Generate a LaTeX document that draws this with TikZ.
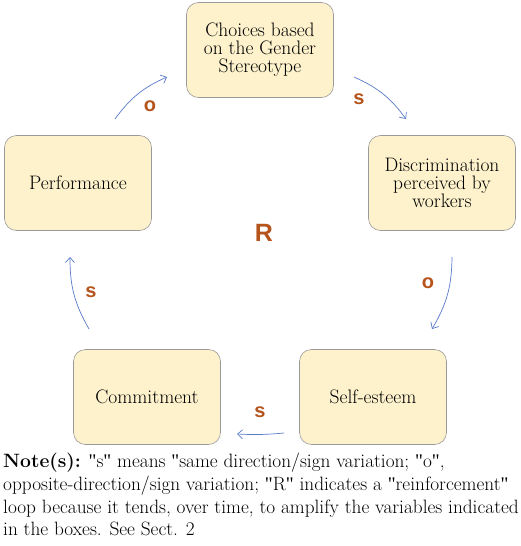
\documentclass[tikz,border=0pt]{standalone}
\usepackage{fontspec}
\newfontfamily\lblfont{Liberation Sans}
\newfontfamily\quotefont{Liberation Serif}[Ligatures=NoCommon]
\usetikzlibrary{arrows.meta}
\definecolor{boxfill}{HTML}{FDF2CC}
\definecolor{boxline}{HTML}{9A9A9A}
\definecolor{arrowblue}{HTML}{5A7BC8}
\definecolor{lblcol}{HTML}{B5541C}
\newcommand\dq{{\quotefont\symbol{34}}}
\tikzset{
  varbox/.style={draw=boxline, line width=0.6pt, fill=boxfill, rounded corners=12pt,
    minimum width=147pt, minimum height=95pt, align=center, inner sep=2pt,
    font=\fontsize{19.5}{18}\selectfont},
  link/.style={draw=arrowblue, line width=0.7pt, -{Straight Barb[length=5pt,width=9pt]}},
  sign/.style={text=lblcol, font=\lblfont\bfseries\fontsize{20}{20}\selectfont, inner sep=0pt},
}
\begin{document}
\begin{tikzpicture}[x=1pt,y=-1pt]
\useasboundingbox (0,0) rectangle (520,546);
\node[varbox] (choices) at (260,50) {Choices based\\on the Gender\\Stereotype};
\node[varbox] (discr) at (442,183) {Discrimination\\perceived by\\workers};
\node[varbox] (perf) at (78,183) {Performance};
\node[varbox] (commit) at (147,397) {Commitment};
\node[varbox] (self) at (373,397) {Self-esteem};

\coordinate (a1s) at (115,119); \coordinate (a1e) at (167,77);
\coordinate (a2s) at (354,77); \coordinate (a2e) at (406,119);
\coordinate (a3s) at (452,257); \coordinate (a3e) at (432,329);
\coordinate (a4s) at (284,433); \coordinate (a4e) at (237,434);
\coordinate (a5s) at (89,329); \coordinate (a5e) at (70,257);

\draw[link] (a1s) to[bend left=15] (a1e);
\draw[link] (a2s) to[bend left=15] (a2e);
\draw[link] (a3s) to[bend left=15] (a3e);
\draw[link] (a4s) to[bend left=4] (a4e);
\draw[link] (a5s) to[bend left=15] (a5e);

\node[sign] (o1) at (150,106) {o};
\node[sign] (s1) at (359,99) {s};
\node[sign, font=\lblfont\bfseries\fontsize{25}{25}\selectfont] (R) at (264,233) {R};
\node[sign] (o2) at (428,283) {o};
\node[sign] (s2) at (91,292) {s};
\node[sign] (s3) at (260,412) {s};

\node[anchor=north west, inner sep=0pt, align=left, font=\fontsize{19.3}{22.7}\selectfont] (note) at (3,453)
{\textbf{Note(s):} \dq s\dq{} means \dq same direction/sign variation; \dq o\dq,\\
opposite-direction/sign variation; \dq R\dq{} indicates a \dq reinforcement\dq\\
loop because it tends, over time, to amplify the variables indicated\\
in the boxes. See Sect. 2};
\end{tikzpicture}
\end{document}
